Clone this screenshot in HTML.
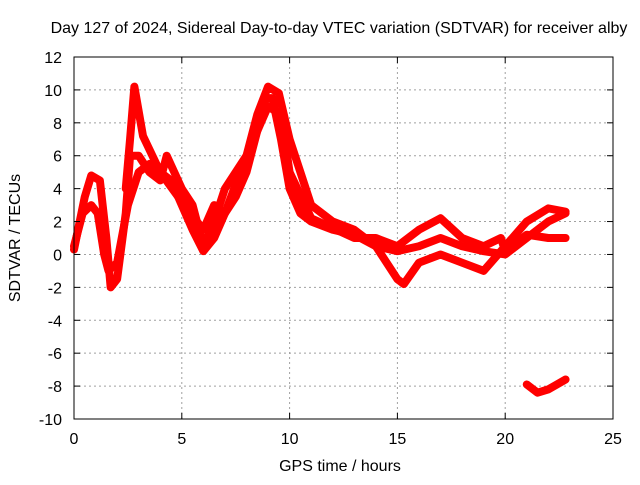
<!DOCTYPE html>
<html><head><meta charset="utf-8"><style>
body{margin:0;background:#fff}
svg text{font-family:"Liberation Sans",sans-serif;font-size:16px;fill:#000}
</style></head><body>
<svg id="chart" width="640" height="480" xmlns="http://www.w3.org/2000/svg">
<rect width="640" height="480" fill="#fff"/>
<text x="339" y="33" text-anchor="middle">Day 127 of 2024, Sidereal Day-to-day VTEC variation (SDTVAR) for receiver alby</text>
<text x="340" y="471" text-anchor="middle">GPS time / hours</text>
<text transform="translate(20,238) rotate(-90)" text-anchor="middle">SDTVAR / TECUs</text>
<g id="grid"></g>
<g id="series"></g>
<rect x="74" y="57" width="539" height="362" fill="none" stroke="#000"/>
<g id="ticks"></g>
</svg>
<script>
const xTicks=[0,5,10,15,20,25];
const yTicks=[12,10,8,6,4,2,0,-2,-4,-6,-8,-10];
const seriesA_x=[0,0.4,0.8,1.1,1.4,1.6,2,2.5,3,3.5,4,4.5,5,5.5,6,6.5,7,7.5,8,8.5,8.9,9.2,9.6,10,10.5,11,12,13,14,15,16,17,18,19,20,21,22,22.8];
const seriesA_y=[0.5,2.5,3,2.5,0,-1,-0.5,3,5,5.5,5,4.5,3,1.5,0.2,1,2.5,3.5,5,7.5,9.5,9.5,7,4,2.5,2,1.5,1.2,0.5,0.2,0.5,1,0.5,0.2,0,1,2,2.5];
const seriesB_x=[0,0.5,0.8,1.2,1.5,1.7,2,2.4,2.6,3,3.5,4,4.3,5,5.5,6,6.5,7,8,8.5,9,9.5,10,10.5,11,12,13,14,14.5,15,15.3,16,17,18,19,20,21,22,22.8];
const seriesB_y=[0.3,3.5,4.8,4.5,1,-2,-1.5,2.5,6,6,5,4.5,6,4,3,0.5,2,4,6,8.5,10.2,9.8,7,5,3,2,1.5,0.5,-0.5,-1.5,-1.8,-0.5,0,-0.5,-1,0.5,2,2.8,2.6];
const seriesC_x=[2.4,2.6,2.8,3.2,4,5,6,6.5,7,8,9,9.6,10,11,13,14,15,16,17,18,19,19.8,20,21,22,22.8];
const seriesC_y=[4,7,10.2,7.2,5,3.2,1.5,3,2.5,6,9,8.5,5,2.2,1,1,0.5,1.5,2.2,1,0.5,1,0.2,1.2,1,1];
const seriesD_x=[21,21.5,22,22.8];
const seriesD_y=[-7.9,-8.4,-8.2,-7.6];
const L=74,R=613,T=57,B=419;
const sx=v=>L+(v-0)/25*(R-L);
const sy=v=>B-(v+10)/22*(B-T);
const NS="http://www.w3.org/2000/svg";
const grid=document.getElementById('grid'),ticks=document.getElementById('ticks'),ser=document.getElementById('series');
function mk(tag,attrs,parent){const e=document.createElementNS(NS,tag);for(const k in attrs)e.setAttribute(k,attrs[k]);parent.appendChild(e);return e;}
xTicks.forEach(t=>{const x=sx(t);
 if(t>0&&t<25){const g=mk('line',{x1:x,x2:x,y1:T,y2:B,stroke:'#a0a0a0','stroke-dasharray':'2,3'},grid);
 
 }
 const k=mk('line',{x1:x,x2:x,y1:B,y2:B-6,stroke:'#000'},ticks);
 
 
 const k2=mk('line',{x1:x,x2:x,y1:T,y2:T+6,stroke:'#000'},ticks);
 
 
 const tx=mk('text',{x:x,y:B+25,'text-anchor':'middle'},ticks);tx.textContent=t;
 
 });
yTicks.forEach(t=>{const y=sy(t);
 if(t>-10&&t<12){const g=mk('line',{x1:L,x2:R,y1:y,y2:y,stroke:'#a0a0a0','stroke-dasharray':'2,3'},grid);
 
 }
 const k=mk('line',{x1:L,x2:L+6,y1:y,y2:y,stroke:'#000'},ticks);
 
 
 const k2=mk('line',{x1:R,x2:R-6,y1:y,y2:y,stroke:'#000'},ticks);
 
 
 const tx=mk('text',{x:L-12,y:y+6,'text-anchor':'end'},ticks);tx.textContent=t;
 
 });
[[seriesA_x,seriesA_y,'series-a'],[seriesB_x,seriesB_y,'series-b'],[seriesC_x,seriesC_y,'series-c'],[seriesD_x,seriesD_y,'series-d']].forEach(([xs,ys,n])=>{
 const pts=xs.map((x,i)=>sx(x)+','+sy(ys[i])).join(' ');
 const p=mk('polyline',{points:pts,fill:'none',stroke:'#ff0000','stroke-width':8,'stroke-linejoin':'round','stroke-linecap':'round'},ser);
 
 
});
</script>
</body></html>
